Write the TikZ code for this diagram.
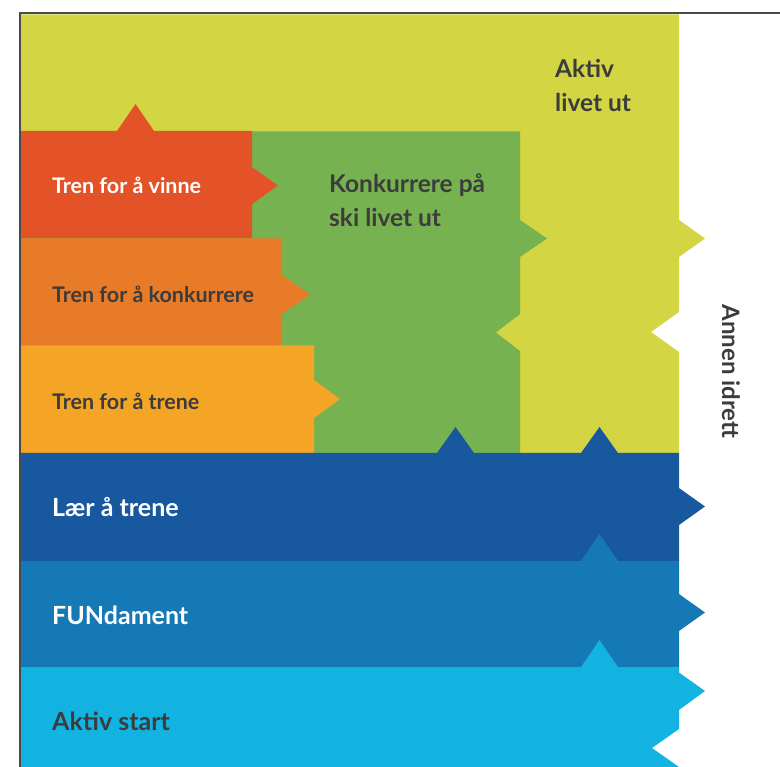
\documentclass[tikz,border=0pt]{standalone}
\usepackage{fontspec}
\setmainfont{Lato}
\usepackage{xcolor}
\usetikzlibrary{positioning}

\definecolor{cLime}{HTML}{D3D543}
\definecolor{cGreen}{HTML}{77B250}
\definecolor{cRed}{HTML}{E35327}
\definecolor{cOrange}{HTML}{E87B28}
\definecolor{cAmber}{HTML}{F4A526}
\definecolor{cDarkBlue}{HTML}{18589F}
\definecolor{cMidBlue}{HTML}{1579B6}
\definecolor{cLightBlue}{HTML}{12B3E0}
\definecolor{cText}{HTML}{3C3C3C}
\definecolor{cFrame}{HTML}{4A4A4A}

\begin{document}
\begin{tikzpicture}[x=1pt, y=-1pt,
    every node/.style={inner sep=0pt, text=cText, font=\bfseries},
    lbl/.style={anchor=base west, font=\bfseries\fontsize{21.5}{26}\selectfont},
    bandlbl/.style={anchor=base west, font=\bfseries\fontsize{25}{30}\selectfont},
    colhead/.style={anchor=base west, align=left, font=\bfseries\fontsize{24.5}{34}\selectfont}]
    \useasboundingbox (0,0) rectangle (780,767);

    % stages on top
    \fill[cLime] (20.5,14.5) -- (679,14.5) -- (679,220) -- (705,238.5) -- (679,257) -- (679,312) -- (651,332) -- (679,352) -- (679,453) -- (20.5,453) -- cycle;
    \fill[cGreen] (20.5,131.5) -- (520,131.5) -- (520,220) -- (547,238.5) -- (520,257) -- (520,314) -- (496,332.5) -- (520,351) -- (520,453) -- (20.5,453) -- cycle;
    \fill[cRed] (20.5,131) -- (117,131) -- (135.5,104) -- (154,131) -- (252,131) -- (252,167) -- (278,185.5) -- (252,204) -- (252,238.5) -- (20.5,238.5) -- cycle;
    \fill[cOrange] (20.5,238.5) -- (282,238.5) -- (282,275) -- (310,294.5) -- (282,314) -- (282,345.5) -- (20.5,345.5) -- cycle;
    \fill[cAmber] (20.5,345.5) -- (314,345.5) -- (314,380) -- (340,399) -- (314,418) -- (314,453) -- (20.5,453) -- cycle;

    % base stages
    \fill[cDarkBlue] (20.5,453) -- (437,453) -- (455.5,427) -- (474,453) -- (581,453) -- (599.5,427) -- (618,453) -- (679,453) -- (679,488) -- (705,506.5) -- (679,525) -- (679,561) -- (20.5,561) -- cycle;
    \fill[cMidBlue] (20.5,561) -- (581,561) -- (599.5,534) -- (618,561) -- (679,561) -- (679,594) -- (705,612.5) -- (679,631) -- (679,667) -- (20.5,667) -- cycle;
    \fill[cLightBlue] (20.5,667) -- (581,667) -- (599.5,640) -- (618,667) -- (679,667) -- (679,672.5) -- (705,691) -- (679,710) -- (679,729) -- (652,748) -- (679,767) -- (20.5,767) -- cycle;

    % frame
    \draw[cFrame, line width=2pt] (19.5,767) -- (19.5,13.5) -- (780,13.5);

    % labels
    \node[lbl, text=white] (vinne) at (52,194) {Tren for å vinne};
    \node[lbl] (konkurrere) at (52,303) {Tren for å konkurrere};
    \node[lbl] (trene) at (52,410) {Tren for å trene};
    \node[bandlbl, text=white] (laer) at (52,517) {Lær å trene};
    \node[bandlbl, text=white] (fundament) at (52,624) {FUNdament};
    \node[bandlbl] (start) at (52,730) {Aktiv start};
    \node[colhead] (skilivet) at (329,227) {Konkurrere på\\ski livet ut};
    \node[colhead] (aktivlivet) at (555,112) {Aktiv\\livet ut};
    \node[font=\bfseries\fontsize{24}{28}\selectfont, rotate=-90, anchor=base] (annen) at (722,371.5) {Annen idrett};
\end{tikzpicture}
\end{document}
